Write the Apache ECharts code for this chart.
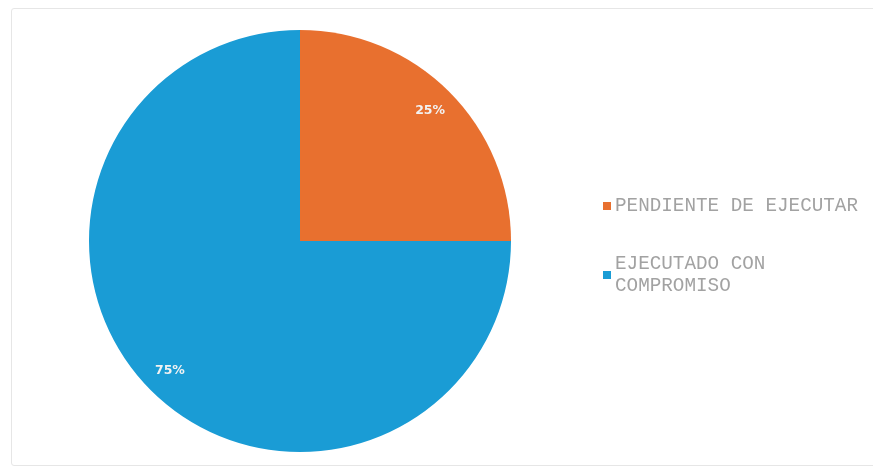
<!DOCTYPE html>
<html>
<head>
<meta charset="utf-8">
<script src="https://cdn.jsdelivr.net/npm/echarts@6/dist/echarts.min.js"></script>
<style>
  html, body { margin: 0; padding: 0; background: #fff; }
  #frame { position: absolute; left: 11px; top: 8px; width: 880px; height: 458px;
           border: 1px solid #e6e6e6; border-radius: 3px; box-sizing: border-box; }
  #chart { position: absolute; left: 0; top: 0; width: 873px; height: 475px; }
</style>
</head>
<body>
<div id="frame"></div>
<div id="chart"></div>
<script>
// Budget execution share
const categories = ['PENDIENTE DE EJECUTAR', 'EJECUTADO CON COMPROMISO'];
const values = [25, 75];
const colors = ['#E8702F', '#1A9CD5'];

const sliceData = categories.map((name, i) => ({ name: name, value: values[i] }));

const chart = echarts.init(document.getElementById('chart'), null, { renderer: 'canvas' });

chart.setOption({
  animation: false,
  color: colors,
  legend: {
    orient: 'vertical',
    left: 598,
    top: 190,
    itemWidth: 8,
    itemHeight: 8,
    itemGap: 36,
    icon: 'rect',
    data: categories.map((name, i) => ({ name: name, itemStyle: { color: colors[i] } })),
    textStyle: {
      fontFamily: 'Liberation Mono, monospace',
      fontSize: 19.3,
      color: '#a2a2a2',
      width: 258,
      overflow: 'break',
      lineHeight: 22,
      padding: [0, 0, 0, -1]
    }
  },
  series: [
    {
      type: 'pie',
      center: [300, 241],
      radius: [0, 211],
      startAngle: 90,
      clockwise: true,
      data: sliceData,
      label: { show: false },
      labelLine: { show: false },
      itemStyle: { borderWidth: 0 },
      emphasis: { disabled: true }
    },
    {
      // transparent ring used only to place the percentage labels
      type: 'pie',
      center: [300, 241],
      radius: [156, 206],
      startAngle: 90,
      clockwise: true,
      silent: true,
      data: sliceData,
      itemStyle: { color: 'rgba(0,0,0,0)', borderWidth: 0 },
      label: {
        show: true,
        position: 'inside',
        formatter: p => p.value + '%',
        color: '#f2f2f2',
        fontFamily: 'DejaVu Sans, sans-serif',
        fontWeight: 'bold',
        fontSize: 12.5
      },
      labelLine: { show: false },
      emphasis: { disabled: true }
    }
  ]
});
</script>
</body>
</html>
